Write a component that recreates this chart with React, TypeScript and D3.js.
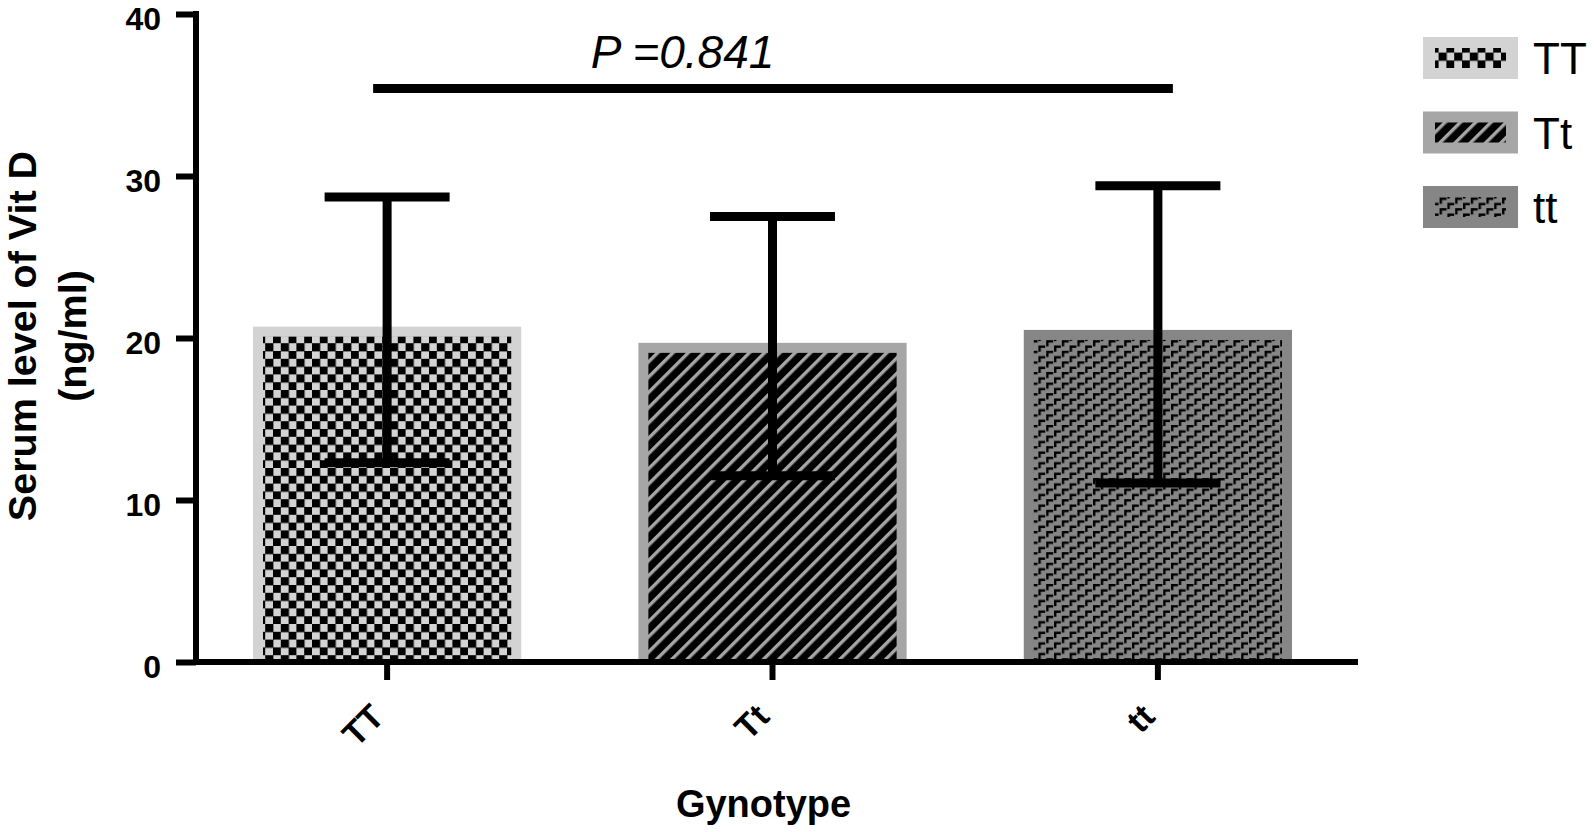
import * as d3 from 'd3';
import { useEffect, useRef } from 'react';

const categories = ['TT', 'Tt', 'tt'];
const means = [20.7, 19.7, 20.5];
const upperErr = [28.7, 27.5, 29.4];
const lowerErr = [12.3, 11.5, 11.05];
const yTicks = [0, 10, 20, 30, 40];
const pLabel = 'P =0.841';
const sigLevel = 35.4;

const fills = ['#d3d3d3', '#a6a6a6', '#868686'];
const patternIds = ['pat-checker', 'pat-diag', 'pat-steps'];

const W = 1594;
const H = 832;
const FONT = '"Liberation Sans", Arial, Helvetica, sans-serif';

const App = () => {
  const svgRef = useRef<SVGSVGElement | null>(null);

  useEffect(() => {
    if (!svgRef.current) return;
    const svg = d3.select(svgRef.current);
    svg.selectAll('*').remove();

    // ── Scales ──────────────────────────────────────────────────────────────
    const axisX = 196;
    const axisY = 662;
    const y = d3.scaleLinear().domain([0, 40]).range([axisY, 14]);
    const x = d3.scaleBand().domain(categories).range([253, 1292]).paddingInner(0.304).paddingOuter(0);
    const bw = x.bandwidth();
    const cx = (c: string) => (x(c) as number) + bw / 2;

    // ── Pattern defs ────────────────────────────────────────────────────────
    const defs = svg.append('defs');

    const checker = defs.append('pattern').attr('id', patternIds[0]).attr('patternUnits', 'userSpaceOnUse').attr('width', 15.6).attr('height', 15.6);
    checker.append('rect').attr('width', 15.6).attr('height', 15.6).attr('fill', fills[0]);
    checker.append('rect').attr('width', 8.2).attr('height', 8.2).attr('fill', '#000');
    checker.append('rect').attr('x', 7.8).attr('y', 7.8).attr('width', 8.2).attr('height', 8.2).attr('fill', '#000');

    const diag = defs
      .append('pattern')
      .attr('id', patternIds[1])
      .attr('patternUnits', 'userSpaceOnUse')
      .attr('width', 10.8)
      .attr('height', 10.8)
      .attr('patternTransform', 'rotate(45)');
    diag.append('rect').attr('width', 10.8).attr('height', 10.8).attr('fill', '#000');
    diag.append('rect').attr('width', 3.4).attr('height', 10.8).attr('fill', fills[1]);

    // step marks: two offset "Г" shapes per tile, wrapped copies so nothing is clipped
    const steps = defs.append('pattern').attr('id', patternIds[2]).attr('patternUnits', 'userSpaceOnUse').attr('width', 15.6).attr('height', 10.6);
    steps.append('rect').attr('width', 15.6).attr('height', 10.6).attr('fill', fills[2]);
    const mark = 'h7v2.4h-4.6v3.8h-2.4z';
    steps
      .append('path')
      .attr('d', `M1,1${mark} M8.8,6.3${mark} M8.8,-4.3${mark}`)
      .attr('fill', '#000');

    const g = svg.append('g');

    // ── Bars ────────────────────────────────────────────────────────────────
    const inset = 10;
    categories.forEach((c, i) => {
      const x0 = x(c) as number;
      const top = y(means[i]);
      g.append('rect').attr('x', x0).attr('y', top).attr('width', bw).attr('height', axisY - top).attr('fill', fills[i]);
      g.append('rect')
        .attr('x', x0 + inset)
        .attr('y', top + inset)
        .attr('width', bw - inset * 2)
        .attr('height', axisY - top - inset)
        .attr('fill', `url(#${patternIds[i]})`);
    });

    // ── Error bars ──────────────────────────────────────────────────────────
    const capW = 125;
    categories.forEach((c, i) => {
      const mx = cx(c);
      const eb = g.append('g').attr('stroke', '#000').attr('stroke-width', 9);
      eb.append('line').attr('x1', mx).attr('x2', mx).attr('y1', y(upperErr[i])).attr('y2', y(lowerErr[i]));
      eb.append('line').attr('x1', mx - capW / 2).attr('x2', mx + capW / 2).attr('y1', y(upperErr[i])).attr('y2', y(upperErr[i]));
      eb.append('line').attr('x1', mx - capW / 2).attr('x2', mx + capW / 2).attr('y1', y(lowerErr[i])).attr('y2', y(lowerErr[i]));
    });

    // ── Axes ────────────────────────────────────────────────────────────────
    const yAxis = d3.axisLeft(y).tickValues(yTicks).tickSize(20).tickPadding(15).tickFormat(d3.format('d'));
    g.append('g')
      .attr('transform', `translate(${axisX},0)`)
      .call(yAxis)
      .call(ax => ax.select('.domain').remove())
      .call(ax => ax.selectAll('line').attr('stroke', '#000').attr('stroke-width', 6))
      .call(ax =>
        ax
          .selectAll('text')
          .attr('fill', '#000')
          .attr('font-family', FONT)
          .attr('font-weight', 'bold')
          .attr('font-size', 32)
          .attr('dy', '0.48em')
      );
    g.append('line').attr('x1', axisX).attr('x2', axisX).attr('y1', y(40) - 3).attr('y2', axisY + 3).attr('stroke', '#000').attr('stroke-width', 6);

    const xAxis = d3.axisBottom(x).tickSize(18).tickSizeOuter(0).tickPadding(0);
    g.append('g')
      .attr('transform', `translate(0,${axisY})`)
      .call(xAxis)
      .call(ax => ax.select('.domain').remove())
      .call(ax => ax.selectAll('line').attr('stroke', '#000').attr('stroke-width', 6))
      .call(ax =>
        ax
          .selectAll('text')
          .attr('fill', '#000')
          .attr('font-family', FONT)
          .attr('font-weight', 'bold')
          .attr('font-size', 34)
          .attr('text-anchor', 'end')
          .attr('transform', 'translate(-18,40) rotate(-45)')
          .attr('dy', '0.7em')
          .attr('y', 0)
      );
    g.append('line').attr('x1', axisX - 3).attr('x2', 1358).attr('y1', axisY).attr('y2', axisY).attr('stroke', '#000').attr('stroke-width', 6);

    // ── Axis titles ─────────────────────────────────────────────────────────
    const yTitle = g
      .append('text')
      .attr('transform', `translate(22,${336}) rotate(-90)`)
      .attr('text-anchor', 'middle')
      .attr('font-family', FONT)
      .attr('font-weight', 'bold')
      .attr('font-size', 39.5);
    yTitle.append('tspan').attr('x', 0).attr('dy', '0.35em').text('Serum level of Vit D');
    yTitle.append('tspan').attr('x', 0).attr('dy', 50).text('(ng/ml)');

    g.append('text')
      .attr('x', cx('Tt') - 9)
      .attr('y', 817)
      .attr('text-anchor', 'middle')
      .attr('font-family', FONT)
      .attr('font-weight', 'bold')
      .attr('font-size', 38)
      .text('Gynotype');

    // ── Significance bar ────────────────────────────────────────────────────
    g.append('line')
      .attr('x1', cx(categories[0]) - 14)
      .attr('x2', cx(categories[2]) + 15)
      .attr('y1', y(sigLevel))
      .attr('y2', y(sigLevel))
      .attr('stroke', '#000')
      .attr('stroke-width', 9);
    g.append('text')
      .attr('x', cx('Tt') - 90)
      .attr('y', 68)
      .attr('text-anchor', 'middle')
      .attr('font-family', FONT)
      .attr('font-style', 'italic')
      .attr('font-size', 46)
      .text(pLabel);

    // ── Legend ──────────────────────────────────────────────────────────────
    const legend = g.append('g').attr('transform', 'translate(1423,37)');
    categories.forEach((c, i) => {
      const row = legend.append('g').attr('transform', `translate(0,${i * 74.5})`);
      row.append('rect').attr('width', 95).attr('height', 42).attr('fill', fills[i]);
      row.append('rect').attr('x', 12).attr('y', 11).attr('width', 71).attr('height', 20).attr('fill', `url(#${patternIds[i]})`);
      row.append('text').attr('x', 110).attr('y', 37).attr('font-family', FONT).attr('font-size', 44).attr('fill', '#000').text(c);
    });
  }, []);

  return <svg ref={svgRef} width={W} height={H} style={{ position: 'absolute', left: 0, top: 0, background: '#fff' }} />;
};

export default App;
